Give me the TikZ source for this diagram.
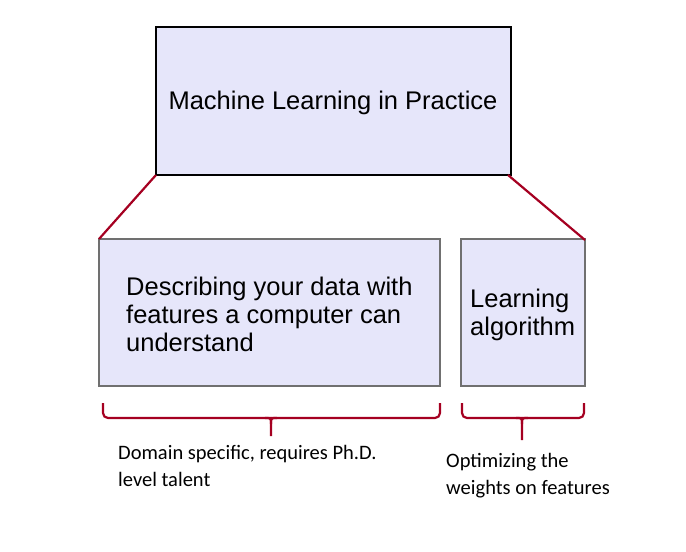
\documentclass[tikz,border=0pt]{standalone}
\usepackage{fontspec}
\setmainfont{Liberation Sans}
\newfontfamily\calib{Carlito}
\definecolor{boxfill}{HTML}{E6E6FA}
\definecolor{darkred}{HTML}{A50021}
\definecolor{boxgray}{HTML}{707070}
\begin{document}
\begin{tikzpicture}[x=1pt,y=-1pt,
  box/.style={draw=#1,fill=boxfill,line width=1.3pt},
  link/.style={draw=darkred,line width=2.2pt},
  brace/.style={draw=darkred,line width=2.2pt,rounded corners=5pt},
  boxtext/.style={font=\fontsize{25.5}{28}\selectfont,align=left,inner sep=0pt,anchor=west},
  note/.style={font=\calib\fontsize{20.5}{27}\selectfont,align=left,inner sep=0pt,anchor=north west}]
\useasboundingbox (0,0) rectangle (686,552);
\path[box=black] (156,27) rectangle (511,175);
\node[inner sep=0pt,font=\fontsize{25.5}{28}\selectfont] (top) at (333,103) {Machine Learning in Practice};
\path[box=boxgray] (99,239) rectangle (440,386);
\path[box=boxgray] (461,239) rectangle (585,386);
\coordinate (tl) at (156,175);
\coordinate (tr) at (508,175);
\coordinate (ll) at (99,239);
\coordinate (rr) at (585,240);
\draw[link] (tl) -- (ll);
\draw[link] (tr) -- (rr);
\node[boxtext] (desc) at (126,314) {Describing your data with\\features a computer can\\understand};
\node[boxtext] (alg) at (470,315) {Learning\\algorithm};
\draw[brace] (103,403) -- (103,418) -- (271,418);
\draw[brace] (440,403) -- (440,418) -- (271,418);
\draw[darkred,line width=2.2pt] (265,418) .. controls (271,418) .. (271,424) -- (271,436);
\draw[darkred,line width=2.2pt] (277,418) .. controls (271,418) .. (271,424);
\draw[brace] (462,403) -- (462,418) -- (522,418);
\draw[brace] (584,403) -- (584,418) -- (522,418);
\draw[darkred,line width=2.2pt] (516,418) .. controls (522,418) .. (522,424) -- (522,440);
\draw[darkred,line width=2.2pt] (528,418) .. controls (522,418) .. (522,424);
\node[note] (n1) at (118,445) {Domain specific, requires Ph.D.\\level talent};
\node[note] (n2) at (446,453) {Optimizing the\\weights on features};
\end{tikzpicture}
\end{document}
